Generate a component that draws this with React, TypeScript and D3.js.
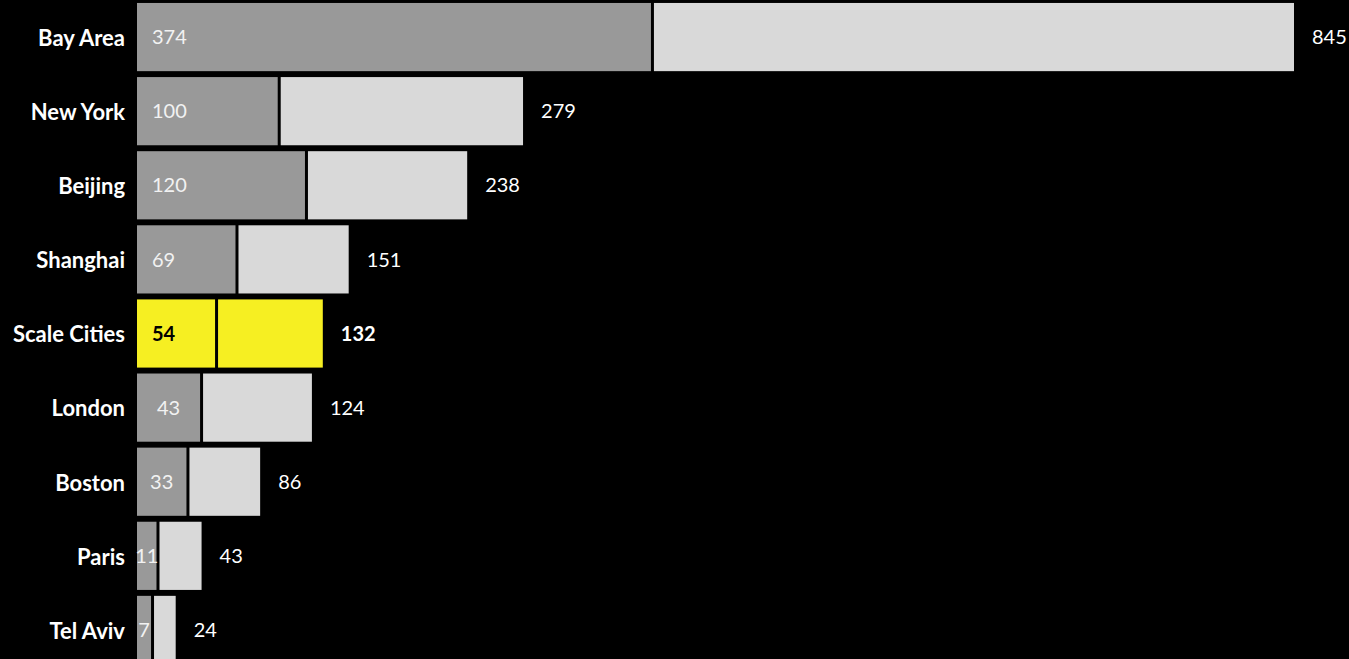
import * as d3 from 'd3'
import { FC } from 'react'

const cities: string[] = [
    'Bay Area',
    'New York',
    'Beijing',
    'Shanghai',
    'Scale Cities',
    'London',
    'Boston',
    'Paris',
    'Tel Aviv',
]

// first segment (dark) and full bar length (labelled at the end)
const firstValues: number[] = [374, 100, 120, 69, 54, 43, 33, 11, 7]
const totalValues: number[] = [845, 279, 238, 151, 132, 124, 86, 43, 24]

const highlighted = 'Scale Cities'

const App: FC = () => {

    const dimensions = { width: 1349, height: 659 }
    const barStart = 137
    const gap = 1.5
    const font = 'Lato, "Noto Sans", sans-serif'

    const y = d3.scaleBand()
        .domain(cities)
        .range([0, 667])
        .paddingInner(0.08)
        .paddingOuter(0.04)

    const x = d3.scaleLinear()
        .domain([0, d3.max(totalValues) as number])
        .range([barStart + 6, 1294])

    return (
        <svg
            width={dimensions.width}
            height={dimensions.height}
            style={{ position: 'fixed', top: 0, left: 0, background: '#000' }}
        >
            <rect width={dimensions.width} height={dimensions.height} fill="#000" />
            {cities.map((city, i) => {
                const top = y(city) as number
                const mid = top + y.bandwidth() / 2
                const isHi = city === highlighted
                const split = x(firstValues[i])
                const end = x(totalValues[i])
                const darkWidth = split - barStart - gap
                // small bars get their value centred, wider ones get it padded left
                const centred = darkWidth < 72
                return (
                    <g key={city}>
                        <text
                            x={barStart - 12}
                            y={mid}
                            dy="0.4em"
                            textAnchor="end"
                            fill="#fff"
                            fontFamily={font}
                            fontWeight={700}
                            fontSize={22}
                        >
                            {city}
                        </text>
                        <rect
                            x={barStart}
                            y={top}
                            width={darkWidth}
                            height={y.bandwidth()}
                            fill={isHi ? '#f6ef22' : '#999999'}
                        />
                        <rect
                            x={split + gap}
                            y={top}
                            width={end - split - gap}
                            height={y.bandwidth()}
                            fill={isHi ? '#f6ef22' : '#d9d9d9'}
                        />
                        <text
                            x={centred ? barStart + darkWidth / 2 : barStart + 15}
                            y={mid}
                            dy="0.36em"
                            textAnchor={centred ? 'middle' : 'start'}
                            fill={isHi ? '#000' : '#f2f2f2'}
                            fontFamily={font}
                            fontWeight={isHi ? 700 : 400}
                            fontSize={20}
                        >
                            {firstValues[i]}
                        </text>
                        <text
                            x={end + 18}
                            y={mid}
                            dy="0.36em"
                            fill="#fff"
                            fontFamily={font}
                            fontWeight={isHi ? 700 : 400}
                            fontSize={20}
                        >
                            {totalValues[i]}
                        </text>
                    </g>
                )
            })}
        </svg>
    )
}

export default App
